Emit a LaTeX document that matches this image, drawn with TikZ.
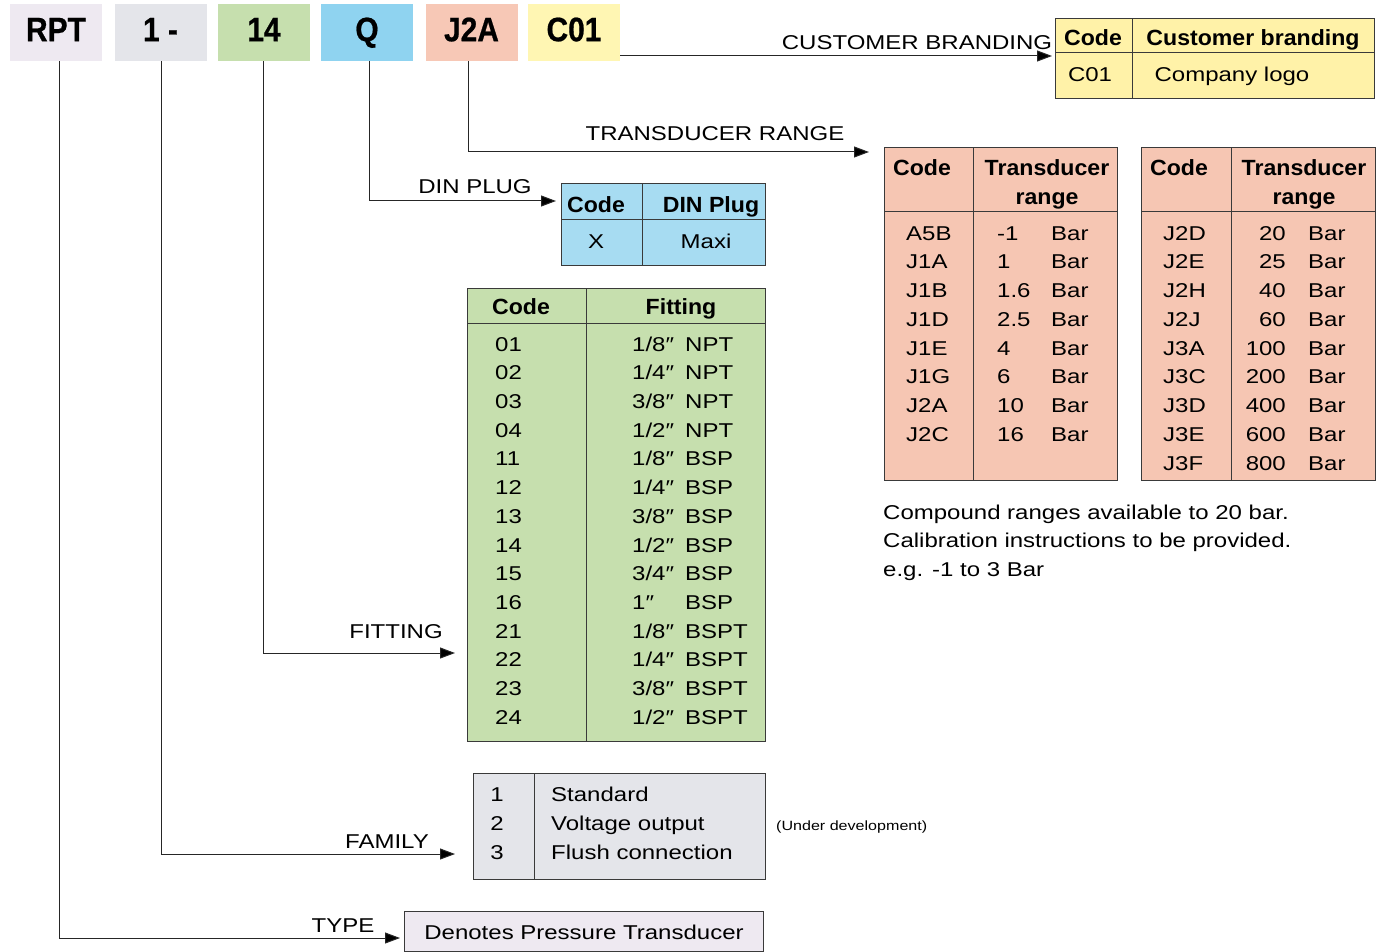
\documentclass[tikz,border=0pt]{standalone}
\usepackage{fontspec}
\usetikzlibrary{arrows.meta}
\newfontfamily\bodyf[FakeStretch=1.2]{Liberation Sans}
\newfontfamily\headf[FakeStretch=1.05]{Liberation Sans}
\newfontfamily\bigf[FakeStretch=0.88,FakeBold=0.6]{Liberation Sans}
\definecolor{cRPT}{HTML}{EEE9F1}
\definecolor{cFam}{HTML}{E4E5EA}
\definecolor{cFit}{HTML}{C6DFAE}
\definecolor{cQ}{HTML}{8FD3F0}
\definecolor{cDin}{HTML}{A7DCF2}
\definecolor{cJ}{HTML}{F7C8B6}
\definecolor{cTr}{HTML}{F6C6B3}
\definecolor{cC}{HTML}{FFF6B3}
\definecolor{cCb}{HTML}{FFF2A8}
\definecolor{bord}{HTML}{3A3A3A}
\tikzset{
  body/.style={font=\bodyf\fontsize{20}{24}\selectfont, inner sep=0pt, text height=14.3pt, text depth=0pt},
  smalltxt/.style={font=\bodyf\fontsize{13.4}{16}\selectfont, inner sep=0pt, text height=9.6pt, text depth=0pt},
  hd/.style={font=\headf\bfseries\fontsize{22}{26}\selectfont, inner sep=0pt, text height=15.8pt, text depth=0pt},
  hdrbox/.style={minimum width=92pt, minimum height=57pt, inner sep=0pt,
    font=\bigf\bfseries\fontsize{34}{40}\selectfont, text height=24.5pt, text depth=7pt},
  tbl/.style={draw=bord, line width=1pt, inner sep=0pt},
  sep/.style={draw=bord, line width=1pt},
  arr/.style={draw=black!85, line width=1pt, -{Triangle[length=15pt,width=11pt,fill=black]}},
}
\begin{document}
\begin{tikzpicture}[x=1pt,y=-1pt]
\useasboundingbox[fill=white] (0,0) rectangle (1381,952);

% header code boxes
\node[hdrbox, fill=cRPT] (rpt) at (56,32.5) {RPT};
\node[hdrbox, fill=cFam] (fam) at (160.5,32.5) {1 -};
\node[hdrbox, fill=cFit] (fit) at (264,32.5) {14};
\node[hdrbox, fill=cQ] (q) at (367,32.5) {Q};
\node[hdrbox, fill=cJ] (j2a) at (471.5,32.5) {J2A};
\node[hdrbox, fill=cC] (c01) at (574,32.5) {C01};

% ---------- customer branding table
\node[tbl, fill=cCb, minimum width=319pt, minimum height=80pt] (cbt) at (1214.5,59) {};
\draw[sep] (1055,53) -- (1374,53);
\draw[sep] (1132,19) -- (1132,99);
\node[hd] (cbh1) at (1093,38) {Code};
\node[hd] (cbh2) at (1253,38) {Customer branding};
\node[body] (cbr1) at (1090,74) {C01};
\node[body] (cbr2) at (1232,74) {Company logo};

% ---------- DIN plug table
\node[tbl, fill=cDin, minimum width=204pt, minimum height=81pt] (dint) at (663,224.5) {};
\draw[sep] (561,220) -- (765,220);
\draw[sep] (642,184) -- (642,265);
\node[hd] (dinh1) at (596,205) {Code};
\node[hd] (dinh2) at (711,205) {DIN Plug};
\node[body] (dinr1) at (596,241) {X};
\node[body] (dinr2) at (706,241) {Maxi};

% ---------- transducer range tables
\node[tbl, fill=cTr, minimum width=233pt, minimum height=332pt] (trl) at (1000.5,314) {};
\draw[sep] (884,212) -- (1117,212);
\draw[sep] (973,148) -- (973,480);
\node[hd] (trlh1) at (922,168) {Code};
\node[hd] (trlh2) at (1047,168) {Transducer};
\node[hd] (trlh3) at (1047,197) {range};
\foreach \c/\v [count=\i from 0] in {A5B/-1,J1A/1,J1B/1.6,J1D/2.5,J1E/4,J1G/6,J2A/10,J2C/16}{
  \node[body, anchor=west] (trlc\i) at (906,{233+28.75*\i}) {\c};
  \node[body, anchor=west] (trlv\i) at (997,{233+28.75*\i}) {\v};
  \node[body, anchor=west] (trlb\i) at (1051,{233+28.75*\i}) {Bar};
}
\node[tbl, fill=cTr, minimum width=234pt, minimum height=332pt] (trr) at (1258,314) {};
\draw[sep] (1141,212) -- (1375,212);
\draw[sep] (1231,148) -- (1231,480);
\node[hd] (trrh1) at (1179,168) {Code};
\node[hd] (trrh2) at (1304,168) {Transducer};
\node[hd] (trrh3) at (1304,197) {range};
\foreach \c/\v [count=\i from 0] in {J2D/20,J2E/25,J2H/40,J2J/60,J3A/100,J3C/200,J3D/400,J3E/600,J3F/800}{
  \node[body, anchor=west] (trrc\i) at (1163,{233+28.75*\i}) {\c};
  \node[body, anchor=east] (trrv\i) at (1286,{233+28.75*\i}) {\v};
  \node[body, anchor=west] (trrb\i) at (1308,{233+28.75*\i}) {Bar};
}
\node[body, anchor=west] (note1) at (883,512) {Compound ranges available to 20 bar.};
\node[body, anchor=west] (note2) at (883,540) {Calibration instructions to be provided.};
\node[body, anchor=west] (note3) at (883,569) {e.g. -1 to 3 Bar};

% ---------- fitting table
\node[tbl, fill=cFit, minimum width=298pt, minimum height=453pt] (fitt) at (616,514.5) {};
\draw[sep] (467,323) -- (765,323);
\draw[sep] (586,288) -- (586,741);
\node[hd] (fith1) at (521,307) {Code};
\node[hd] (fith2) at (681,307) {Fitting};
\foreach \c/\f/\t [count=\i from 0] in {
  01/1\slash 8″/NPT, 02/1\slash 4″/NPT, 03/3\slash 8″/NPT, 04/1\slash 2″/NPT,
  11/1\slash 8″/BSP, 12/1\slash 4″/BSP, 13/3\slash 8″/BSP, 14/1\slash 2″/BSP,
  15/3\slash 4″/BSP, 16/1″/BSP, 21/1\slash 8″/BSPT, 22/1\slash 4″/BSPT,
  23/3\slash 8″/BSPT, 24/1\slash 2″/BSPT}{
  \node[body, anchor=west] (fitc\i) at (495,{344+28.7*\i}) {\c};
  \node[body, anchor=west] (fitf\i) at (632,{344+28.7*\i}) {\f};
  \node[body, anchor=west] (fitt\i) at (685,{344+28.7*\i}) {\t};
}

% ---------- family table
\node[tbl, fill=cFam, minimum width=292pt, minimum height=106pt] (famt) at (619,826) {};
\draw[sep] (534,773) -- (534,879);
\foreach \n/\t [count=\i from 0] in {1/Standard,2/Voltage output,3/Flush connection}{
  \node[body] (famn\i) at (497,{794+29*\i}) {\n};
  \node[body, anchor=west] (famx\i) at (551,{794+29*\i}) {\t};
}
\node[smalltxt, anchor=west] (undev) at (776,826) {(Under development)};

% ---------- type box
\node[tbl, fill=cRPT, minimum width=359pt, minimum height=40pt] (typet) at (583.5,931) {};
\node[body] (typetxt) at (584,932) {Denotes Pressure Transducer};

% ---------- connectors
\coordinate (cbs) at (620,56);
\coordinate (cbe) at (1052,56);
\coordinate (tre) at (869,152);
\coordinate (dine) at (556,201);
\coordinate (fite) at (455,653);
\coordinate (fame) at (455,854);
\coordinate (typee) at (400,938);

\draw[arr] (cbs) -- (cbe);
\draw[arr] ([xshift=-3.5pt]j2a.south) |- (tre);
\draw[arr] ([xshift=2pt]q.south) |- (dine);
\draw[arr] ([xshift=-1pt]fit.south) |- (fite);
\draw[arr] ([xshift=0.5pt]fam.south) |- (fame);
\draw[arr] ([xshift=3pt]rpt.south) |- (typee);

\node[body] (lcb) at (917,42) {CUSTOMER BRANDING};
\node[body] (ltr) at (715,133) {TRANSDUCER RANGE};
\node[body] (ldin) at (475,186) {DIN PLUG};
\node[body] (lfit) at (396,631) {FITTING};
\node[body] (lfam) at (387,841) {FAMILY};
\node[body] (ltype) at (343,925) {TYPE};
\end{tikzpicture}
\end{document}
